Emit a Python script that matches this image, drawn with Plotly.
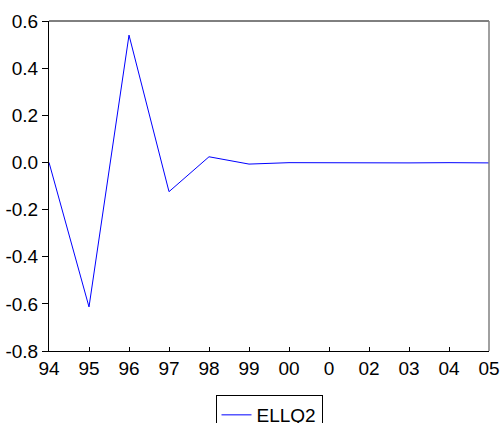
import plotly.graph_objects as go

years = ["94", "95", "96", "97", "98", "99", "00", "0", "02", "03", "04", "05"]
ellq2 = [0.0, -0.613, 0.540, -0.124, 0.024, -0.007, -0.001, -0.002, -0.001, -0.002, -0.001, -0.002]
y_ticks = [-0.8, -0.6, -0.4, -0.2, 0.0, 0.2, 0.4, 0.6]
y_labels = ["-0.8", "-0.6", "-0.4", "-0.2", "0.0", "0.2", "0.4", "0.6"]

xs = list(range(len(years)))

fig = go.Figure()
fig.add_trace(go.Scatter(x=xs, y=ellq2, mode="lines", name="ELLQ2",
                         line=dict(color="#0000FF", width=1)))

font = dict(family="Liberation Sans, Arial, sans-serif", size=19, color="black")

fig.update_layout(
    width=502, height=423,
    margin=dict(l=49, r=13, t=21, b=72, autoexpand=False),
    paper_bgcolor="white", plot_bgcolor="white",
    font=font,
    showlegend=True,
    legend=dict(x=0.5, xanchor="center", xref="paper",
                y=1 - 395 / 423, yanchor="top", yref="container",
                bordercolor="black", borderwidth=1, font=font,
                bgcolor="white", itemwidth=30),
    xaxis=dict(range=[0, len(years) - 1], tickvals=xs, ticktext=years,
               ticks="inside", ticklen=4, tickcolor="black", showgrid=False,
               zeroline=False, showline=True, linecolor="black", linewidth=1,
               mirror=False, tickfont=font, automargin=False),
    yaxis=dict(range=[-0.8, 0.6], tickvals=y_ticks, ticktext=y_labels,
               ticks="outside", ticklen=6, tickcolor="black", showgrid=False,
               zeroline=False, showline=True, linecolor="black", linewidth=1,
               mirror=False, tickfont=font, automargin=False),
)
# frame top/right
fig.add_shape(type="line", xref="paper", yref="paper", x0=0, x1=1, y0=1, y1=1,
              line=dict(color="black", width=1))
fig.add_shape(type="line", xref="paper", yref="paper", x0=1, x1=1, y0=0, y1=1,
              line=dict(color="#808080", width=1.5))

fig.write_html("out.html", config={"displayModeBar": False},
               post_script="document.body.style.margin='0';document.body.style.overflow='hidden';")
